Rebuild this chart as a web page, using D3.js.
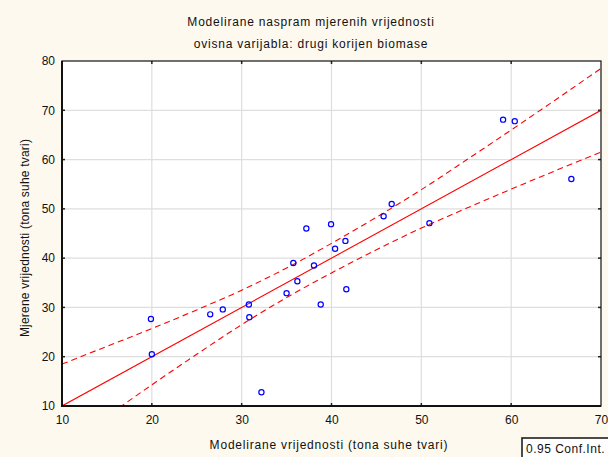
<!DOCTYPE html>
<html><head><meta charset="utf-8">
<script src="https://cdn.jsdelivr.net/npm/d3@7"></script>
<style>
html,body{margin:0;padding:0;background:#fdf9ef;}
svg{display:block;}
text{font-family:"Liberation Sans",Arial,sans-serif;fill:#111;}
</style></head>
<body>
<script>
// ---- data ----
const titleLines = ["Modelirane naspram mjerenih vrijednosti", "ovisna varijabla: drugi korijen biomase"];
const xLabel = "Modelirane vrijednosti (tona suhe tvari)";
const yLabel = "Mjerene vrijednosti (tona suhe tvari)";
const legendText = "0.95 Conf.Int.";
const xTicks = [10, 20, 30, 40, 50, 60, 70];
const yTicks = [10, 20, 30, 40, 50, 60, 70, 80];
const predicted = [19.9, 20.0, 26.5, 27.9, 30.8, 30.85, 32.2, 35.0, 35.75, 36.2, 37.2, 38.05, 38.8, 39.95, 40.4, 41.55, 41.65, 45.8, 46.7, 50.9, 59.1, 60.4, 66.7];
const observed  = [27.65, 20.5, 28.6, 29.6, 30.6, 28.0, 12.8, 32.9, 39.0, 35.3, 46.0, 38.5, 30.6, 46.9, 41.9, 43.5, 33.7, 48.5, 51.0, 47.1, 68.1, 67.8, 56.05];
const fitX = [10, 70];
const fitY = [10, 70];
const bandX     = [10, 15, 20, 25, 30, 35, 40, 45, 50, 55, 60, 65, 70];
const bandUpper = [18.5, 22.1, 25.7, 29.5, 33.5, 38.0, 43.0, 48.3, 53.9, 59.9, 66.0, 72.2, 78.5];
const bandLower = [1.5, 7.9, 14.3, 20.5, 26.5, 32.0, 37.0, 41.7, 46.1, 50.1, 54.0, 57.8, 61.5];

// ---- layout ----
const W = 608, H = 457;
const L = 62, R = 601, T = 61, B = 406;

const svg = d3.select("body").append("svg").attr("width", W).attr("height", H);
svg.append("rect").attr("width", W).attr("height", H).attr("fill", "#fdf9ef");

const x = d3.scaleLinear().domain([10, 70]).range([L, R]);
const y = d3.scaleLinear().domain([10, 80]).range([B, T]);

svg.append("defs").append("clipPath").attr("id", "clip")
  .append("rect").attr("x", L).attr("y", T).attr("width", R - L).attr("height", B - T);

// plot background
svg.append("rect").attr("x", L).attr("y", T).attr("width", R - L).attr("height", B - T).attr("fill", "#fff");

// gridlines
const grid = svg.append("g").attr("stroke", "#dedede").attr("stroke-width", 1.2);
xTicks.slice(1, -1).forEach(v => grid.append("line").attr("x1", x(v)).attr("x2", x(v)).attr("y1", T).attr("y2", B));
yTicks.slice(1, -1).forEach(v => grid.append("line").attr("y1", y(v)).attr("y2", y(v)).attr("x1", L).attr("x2", R));

// axes
const xAxis = d3.axisBottom(x).tickValues(xTicks).tickSize(0).tickPadding(9).tickFormat(d3.format("d"));
const gx = svg.append("g").attr("transform", `translate(0,${B})`).call(xAxis);
gx.select(".domain").remove();
gx.selectAll("text").attr("font-size", 12).attr("fill", "#111").attr("font-family", "Liberation Sans, Arial, sans-serif");

const yAxis = d3.axisLeft(y).tickValues(yTicks).tickSize(0).tickPadding(7).tickFormat(d3.format("d"));
const gy = svg.append("g").attr("transform", `translate(${L},0)`).call(yAxis);
gy.select(".domain").remove();
gy.selectAll("text").attr("font-size", 12).attr("fill", "#111").attr("font-family", "Liberation Sans, Arial, sans-serif");

// small inner tick marks on all sides
const tk = svg.append("g").attr("stroke", "#222").attr("stroke-width", 1.5);
xTicks.slice(1, -1).forEach(v => {
  tk.append("line").attr("x1", x(v)).attr("x2", x(v)).attr("y1", T).attr("y2", T + 3);
  tk.append("line").attr("x1", x(v)).attr("x2", x(v)).attr("y1", B).attr("y2", B - 3);
});
yTicks.slice(1, -1).forEach(v => {
  tk.append("line").attr("y1", y(v)).attr("y2", y(v)).attr("x1", R).attr("x2", R - 3);
  tk.append("line").attr("y1", y(v)).attr("y2", y(v)).attr("x1", L).attr("x2", L + 3);
});

const plot = svg.append("g").attr("clip-path", "url(#clip)");

// fit line
plot.append("path")
  .datum(fitX.map((d, i) => [d, fitY[i]]))
  .attr("d", d3.line().x(d => x(d[0])).y(d => y(d[1])))
  .attr("fill", "none").attr("stroke", "#ff0000").attr("stroke-width", 1.1);

// confidence bands
const bandLine = d3.line().x(d => x(d[0])).y(d => y(d[1])).curve(d3.curveMonotoneX);
[bandUpper, bandLower].forEach(arr => {
  plot.append("path")
    .datum(bandX.map((d, i) => [d, arr[i]]))
    .attr("d", bandLine)
    .attr("fill", "none").attr("stroke", "#ff0000").attr("stroke-width", 1.1)
    .attr("stroke-dasharray", "6,4");
});

// points
plot.selectAll("circle").data(predicted.map((d, i) => [d, observed[i]])).enter()
  .append("circle")
  .attr("cx", d => x(d[0])).attr("cy", d => y(d[1])).attr("r", 2.6)
  .attr("fill", "none").attr("stroke", "#0000ff").attr("stroke-width", 1.2);

// frame
svg.append("rect").attr("x", L).attr("y", T).attr("width", R - L).attr("height", B - T)
  .attr("fill", "none").attr("stroke", "#111").attr("stroke-width", 1.2);
svg.append("line").attr("x1", L).attr("x2", L).attr("y1", T).attr("y2", B + 1).attr("stroke", "#111").attr("stroke-width", 2);
svg.append("line").attr("x1", L - 1).attr("x2", R).attr("y1", B).attr("y2", B).attr("stroke", "#111").attr("stroke-width", 2);

// titles
svg.append("text").attr("x", 311).attr("y", 26).attr("text-anchor", "middle").attr("font-size", 12).attr("letter-spacing", 0.8).text(titleLines[0]);
svg.append("text").attr("x", 311).attr("y", 48).attr("text-anchor", "middle").attr("font-size", 12).attr("letter-spacing", 0.8).text(titleLines[1]);
svg.append("text").attr("x", 329).attr("y", 449).attr("text-anchor", "middle").attr("font-size", 12).attr("letter-spacing", 0.8).text(xLabel);
svg.append("text").attr("transform", `translate(29,238) rotate(-90)`).attr("text-anchor", "middle").attr("font-size", 12).attr("letter-spacing", 0.2).text(yLabel);

// legend box
svg.append("rect").attr("x", 522).attr("y", 438).attr("width", 100).attr("height", 40)
  .attr("fill", "#fff").attr("stroke", "#111").attr("stroke-width", 1.5);
svg.append("text").attr("x", 526).attr("y", 453).attr("font-size", 12).attr("letter-spacing", 0.5).text(legendText);
</script>
</body></html>
